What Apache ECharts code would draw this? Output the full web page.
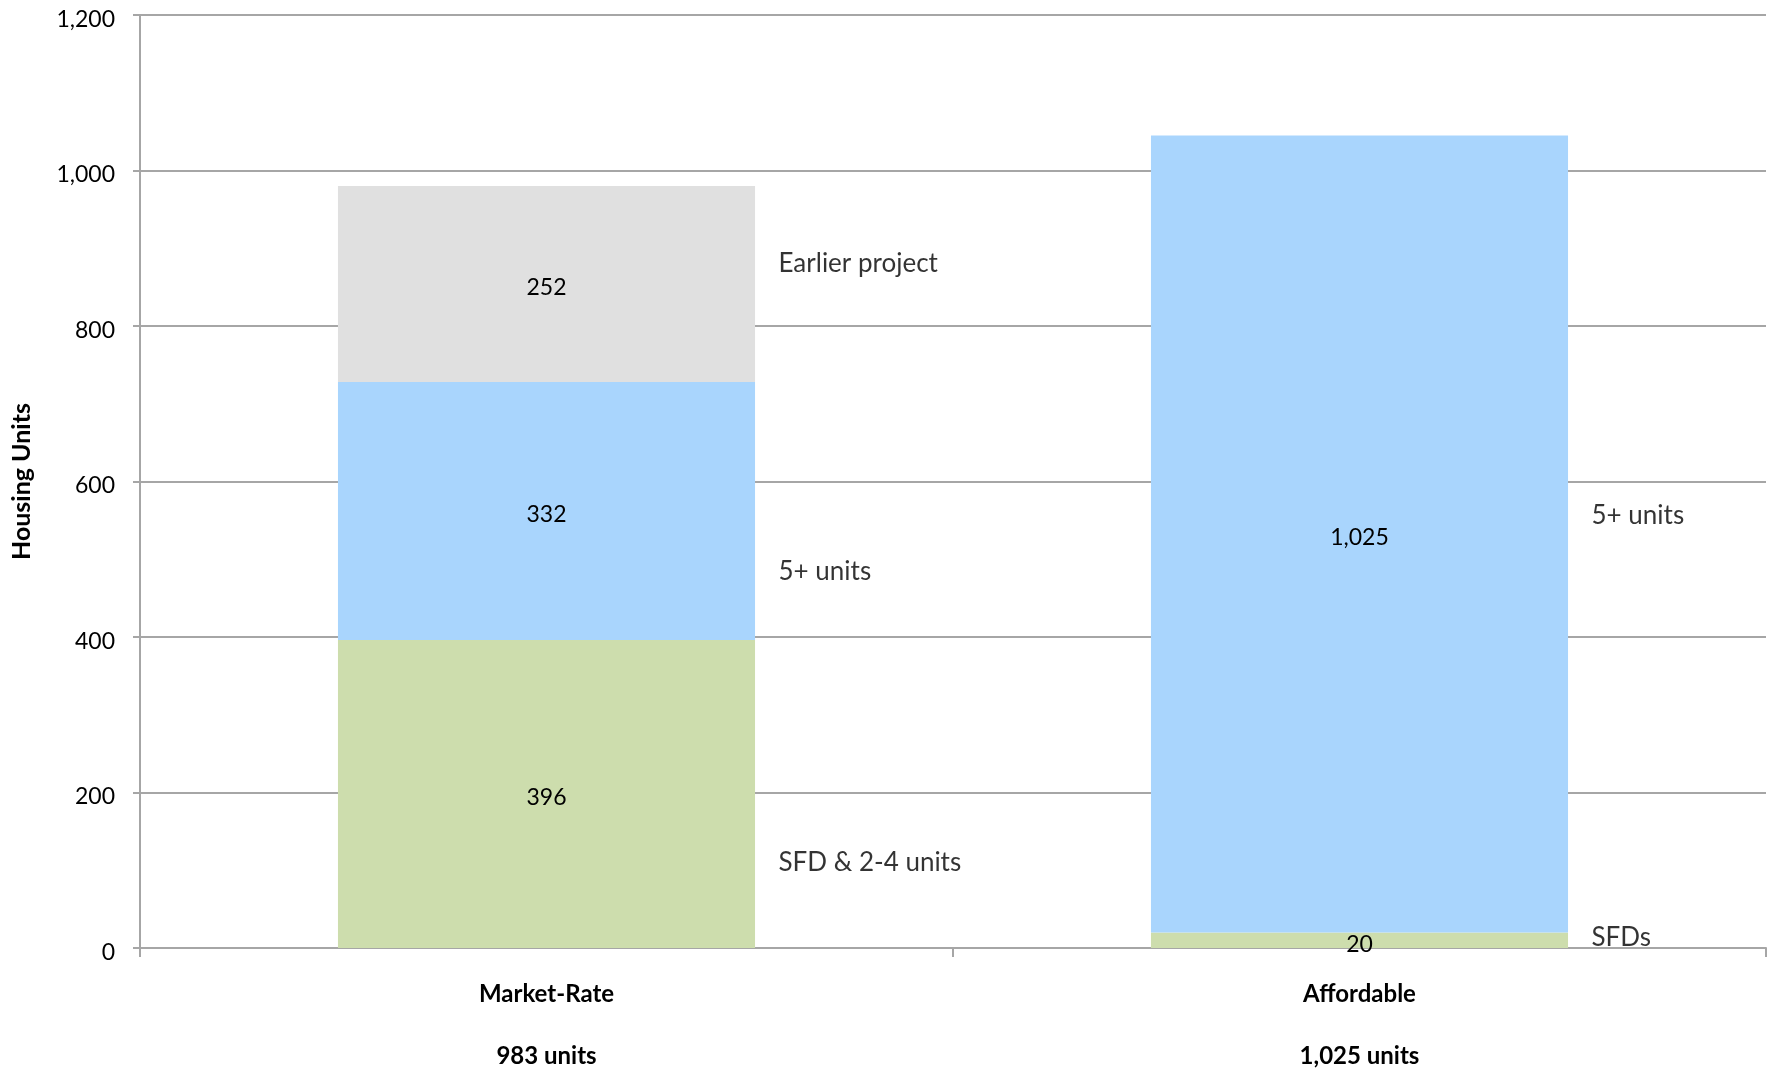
<!DOCTYPE html>
<html>
<head>
<meta charset="utf-8">
<script src="https://cdn.jsdelivr.net/npm/echarts@6/dist/echarts.min.js"></script>
<style>html,body{margin:0;padding:0;background:#fff}#c{width:1772px;height:1069px}</style>
</head>
<body>
<div id="c"></div>
<script>
const categories = ['Market-Rate', 'Affordable'];
const subLabels = ['983 units', '1,025 units'];
const sfdValues = [396, 20];
const fivePlusValues = [332, 1025];
const earlierValues = [252, null];
const yTicks = [0, 200, 400, 600, 800, 1000, 1200];
// annotation texts next to bars: [category, y position in units, text]
const annotations = [
  ['Market-Rate', 881, 'Earlier project'],
  ['Market-Rate', 486, '5+ units'],
  ['Market-Rate', 111, 'SFD & 2-4 units'],
  ['Affordable', 557, '5+ units'],
  ['Affordable', 15, 'SFDs']
];

const FONT = 'Lato';
const fmt = v => v.toLocaleString('en-US');
const chart = echarts.init(document.getElementById('c'), null, {renderer: 'canvas'});

const barLabel = {
  show: true, position: 'inside', offset: [0, 4], color: '#000', fontFamily: FONT, fontSize: 23,
  formatter: p => fmt(p.value)
};

chart.setOption({
  animation: false,
  backgroundColor: '#fff',
  textStyle: {fontFamily: FONT},
  grid: {left: 140, top: 15, right: 6, bottom: 121, containLabel: false},
  xAxis: {
    type: 'category',
    data: categories,
    axisLine: {lineStyle: {color: '#A6A6A6', width: 2}},
    axisTick: {show: true, length: 9, lineStyle: {color: '#A6A6A6', width: 2}},
    axisLabel: {
      margin: 31,
      formatter: (v, i) => '{a|' + v + '}\n{b|' + subLabels[i] + '}',
      rich: {
        a: {fontFamily: FONT, fontSize: 24, fontWeight: 'bold', color: '#000', lineHeight: 30},
        b: {fontFamily: FONT, fontSize: 24, fontWeight: 'bold', color: '#000', lineHeight: 94}
      }
    }
  },
  yAxis: {
    type: 'value',
    min: yTicks[0], max: yTicks[yTicks.length - 1], interval: 200,
    name: 'Housing Units',
    nameLocation: 'middle',
    nameGap: 106,
    nameTextStyle: {fontFamily: FONT, fontSize: 25, fontWeight: 'bold', color: '#000'},
    axisLine: {show: true, lineStyle: {color: '#A6A6A6', width: 2}},
    axisTick: {show: true, length: 7, lineStyle: {color: '#A6A6A6', width: 2}},
    axisLabel: {
      margin: 25,
      formatter: v => '{v|' + fmt(v) + '}',
      rich: {v: {fontFamily: FONT, fontSize: 23, color: '#000', padding: [9, 0, 0, 0]}}
    },
    splitLine: {show: true, lineStyle: {color: '#A6A6A6', width: 2}}
  },
  series: [
    {name: 'SFD', type: 'bar', stack: 't', data: sfdValues, barWidth: '51.3%',
     itemStyle: {color: '#CDDDAD'}, label: barLabel},
    {name: '5+ units', type: 'bar', stack: 't', data: fivePlusValues, barWidth: '51.3%',
     itemStyle: {color: '#A9D5FD'}, label: barLabel},
    {name: 'Earlier project', type: 'bar', stack: 't', data: earlierValues, barWidth: '51.3%',
     itemStyle: {color: '#E0E0E0'}, label: barLabel},
    {name: 'annotations', type: 'scatter', symbolSize: 0, silent: true, z: 10,
     data: annotations.map(a => ({value: [a[0], a[1]], name: a[2]})),
     label: {show: true, position: 'right', distance: 0, offset: [232, 1],
             formatter: p => p.name, fontFamily: FONT, fontSize: 26, color: '#000'}}
  ]
});
</script>
</body>
</html>
